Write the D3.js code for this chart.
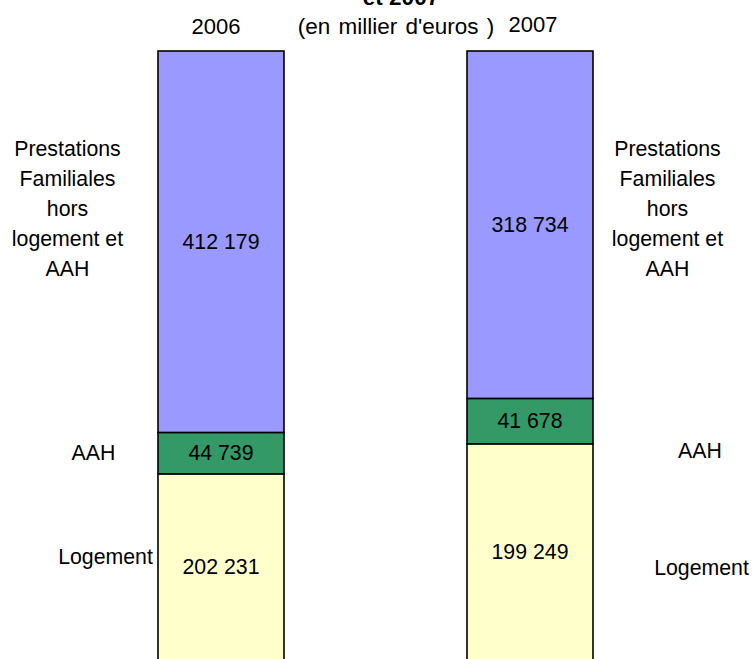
<!DOCTYPE html>
<html>
<head>
<meta charset="utf-8">
<script src="https://cdn.jsdelivr.net/npm/d3@7"></script>
<style>
  body { margin: 0; background: #fff; }
  svg text { font-family: "Liberation Sans", Arial, sans-serif; fill: #000; }
</style>
</head>
<body>
<svg width="752" height="659"></svg>
<script>
var years = ["2006", "2007"];
var seriesKeys = ["logement", "aah", "prestations"];
var logement = [202231, 199249];
var aah = [44739, 41678];
var prestations = [412179, 318734];
var valueLabels = {
    logement: ["202 231", "199 249"],
    aah: ["44 739", "41 678"],
    prestations: ["412 179", "318 734"]
};
var prestationsLines = ["Prestations", "Familiales", "hors", "logement et", "AAH"];

var colors = { prestations: "#9999ff", aah: "#339966", logement: "#ffffcc" };

var rows = years.map(function(y, i) {
    return { year: y, logement: logement[i], aah: aah[i], prestations: prestations[i] };
});

var stacked = d3.stack()
    .keys(seriesKeys)
    .offset(d3.stackOffsetExpand)(rows);

var barWidth = 126;

var x = d3.scalePoint()
    .domain(years)
    .range([221, 530]);

var y = d3.scaleLinear()
    .domain([0, 1])
    .range([661, 51]);

var svg = d3.select("svg");

// bars
var layer = svg.selectAll("g.layer")
    .data(stacked)
    .enter().append("g")
    .attr("class", "layer");

layer.selectAll("rect")
    .data(function(s) { return s.map(function(d) { return { key: s.key, d: d }; }); })
    .enter().append("rect")
    .attr("x", function(o) { return x(o.d.data.year) - barWidth / 2; })
    .attr("y", function(o) { return y(o.d[1]); })
    .attr("width", barWidth)
    .attr("height", function(o) { return y(o.d[0]) - y(o.d[1]); })
    .style("fill", function(o) { return colors[o.key]; })
    .style("stroke", "#000")
    .style("stroke-width", 1.6);

// value labels in segment centres
layer.selectAll("text")
    .data(function(s) { return s.map(function(d, i) { return { key: s.key, d: d, i: i }; }); })
    .enter().append("text")
    .attr("x", function(o) { return x(o.d.data.year); })
    .attr("y", function(o) { return (y(o.d[0]) + y(o.d[1])) / 2 + 7; })
    .attr("text-anchor", "middle")
    .style("font-size", "21.3px")
    .text(function(o) { return valueLabels[o.key][o.i]; });

// title (top line cut off)
svg.append("text")
    .attr("x", 401)
    .attr("y", 5)
    .attr("text-anchor", "middle")
    .style("font-size", "22.5px")
    .style("font-weight", "bold")
    .text("et 2007");

svg.append("text")
    .attr("x", 396)
    .attr("y", 34)
    .attr("text-anchor", "middle")
    .style("font-size", "22.5px")
    .style("word-spacing", "2px")
    .text("(en millier d'euros )");

// year labels
svg.append("text")
    .attr("x", x("2006") - 5)
    .attr("y", 34)
    .attr("text-anchor", "middle")
    .style("font-size", "22px")
    .text(years[0]);

svg.append("text")
    .attr("x", x("2007") + 3)
    .attr("y", 32)
    .attr("text-anchor", "middle")
    .style("font-size", "22px")
    .text(years[1]);

// side labels
function block(cx, baseline) {
    var t = svg.append("text")
        .attr("text-anchor", "middle")
        .style("font-size", "21.3px");
    t.selectAll("tspan")
        .data(prestationsLines)
        .enter().append("tspan")
        .attr("x", cx)
        .attr("y", function(d, i) { return baseline + i * 30; })
        .text(function(d) { return d; });
}
block(67.5, 156);
block(667.5, 156);

function label(txt, cx, baseline) {
    svg.append("text")
        .attr("x", cx)
        .attr("y", baseline)
        .attr("text-anchor", "middle")
        .style("font-size", "21.3px")
        .text(txt);
}
label("AAH", 93.5, 460);
label("AAH", 700, 458);
label("Logement", 105.5, 564);
label("Logement", 701.5, 575);
</script>
</body>
</html>
